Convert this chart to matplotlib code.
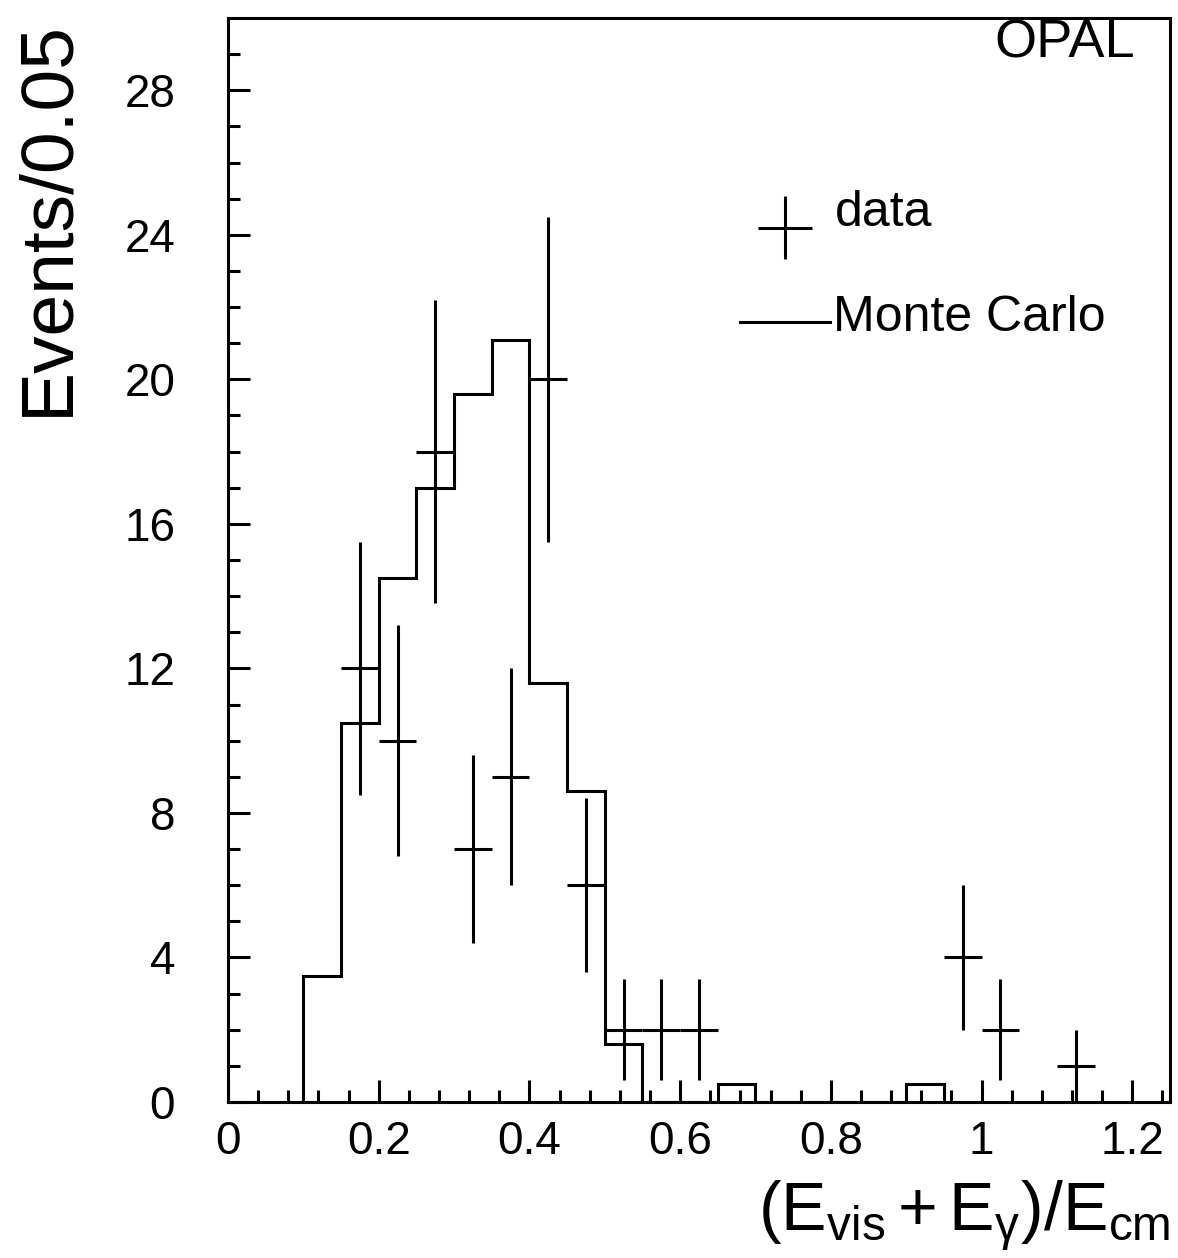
import numpy as np
import matplotlib
matplotlib.use("Agg")
import matplotlib.pyplot as plt

# OPAL energy distribution: data points vs Monte Carlo histogram
plt.rcParams['font.family'] = ['Liberation Sans', 'DejaVu Sans']
plt.rcParams['mathtext.fontset'] = 'custom'
plt.rcParams['mathtext.rm'] = 'Liberation Sans'
plt.rcParams['mathtext.it'] = 'Liberation Sans:italic'
plt.rcParams['mathtext.bf'] = 'Liberation Sans:bold'

# Monte Carlo histogram (bin edges and contents, bin width 0.05)
mc_edges = [0.10, 0.15, 0.20, 0.25, 0.30, 0.35, 0.40, 0.45, 0.50, 0.55,
            0.60, 0.65, 0.70, 0.75, 0.80, 0.85, 0.90, 0.95]
mc_counts = [3.5, 10.5, 14.5, 17.0, 19.6, 21.1, 11.6, 8.6, 1.6, 0.0,
             0.0, 0.5, 0.0, 0.0, 0.0, 0.0, 0.5]

# data points (bin centres, counts, errors)
data_x = [0.175, 0.225, 0.275, 0.325, 0.375, 0.425, 0.475, 0.525, 0.575,
          0.625, 0.975, 1.025, 1.125]
data_y = [12, 10, 18, 7, 9, 20, 6, 2, 2, 2, 4, 2, 1]
data_err = [3.5, 3.2, 4.2, 2.6, 3.0, 4.5, 2.4, 1.4, 1.4, 1.4, 2.0, 1.4, 1.0]
half_bin = 0.025

x_ticks = [0, 0.2, 0.4, 0.6, 0.8, 1.0, 1.2]
x_ticklabels = ['0', '0.2', '0.4', '0.6', '0.8', '1', '1.2']
y_ticks = [0, 4, 8, 12, 16, 20, 24, 28]

fig = plt.figure(figsize=(11.78, 12.58), dpi=100)
ax = fig.add_axes([0.1935, 0.124, 0.7997, 0.8617])

lw = 2.2
ax.stairs(mc_counts, mc_edges, color='black', linewidth=lw, baseline=0)
ax.errorbar(data_x, data_y, xerr=half_bin, yerr=data_err, fmt='none',
            ecolor='black', elinewidth=lw, capsize=0)

ax.set_xlim(0, 1.25)
ax.set_ylim(0, 30)

ax.set_xticks(x_ticks)
ax.set_xticklabels(x_ticklabels)
ax.set_xticks(np.arange(0, 1.25, 0.04), minor=True)
ax.set_yticks(y_ticks)
ax.set_yticks(np.arange(0, 30, 1), minor=True)

ax.tick_params(which='both', direction='in', top=False, right=False,
               width=lw, labelsize=33)
ax.tick_params(which='major', length=16)
ax.tick_params(which='minor', length=8.5)
ax.tick_params(axis='x', pad=13)
ax.tick_params(axis='y', pad=38)
for s in ax.spines.values():
    s.set_linewidth(lw)

ax.set_ylabel('Events/0.05', fontsize=54)
ax.yaxis.set_label_coords(-0.155, 0.815)
ax.text(1.0, -0.07, r'$(\mathrm{E_{vis}}+\mathrm{E_{\gamma}})/\mathrm{E_{cm}}$',
        transform=ax.transAxes, ha='right', va='top', fontsize=49)

# legend drawn by hand, like the original
ax.errorbar([0.739], [24.2], xerr=0.036, yerr=0.87, fmt='none',
            ecolor='black', elinewidth=lw)
ax.text(0.805, 24.6, 'data', fontsize=36, va='center', ha='left')
ax.plot([0.679, 0.799], [21.6, 21.6], color='black', linewidth=lw)
ax.text(0.803, 21.7, 'Monte Carlo', fontsize=36, va='center', ha='left')
ax.text(1.204, 29.3, 'OPAL', fontsize=39, va='center', ha='right')

plt.savefig('out.png', dpi=100)
